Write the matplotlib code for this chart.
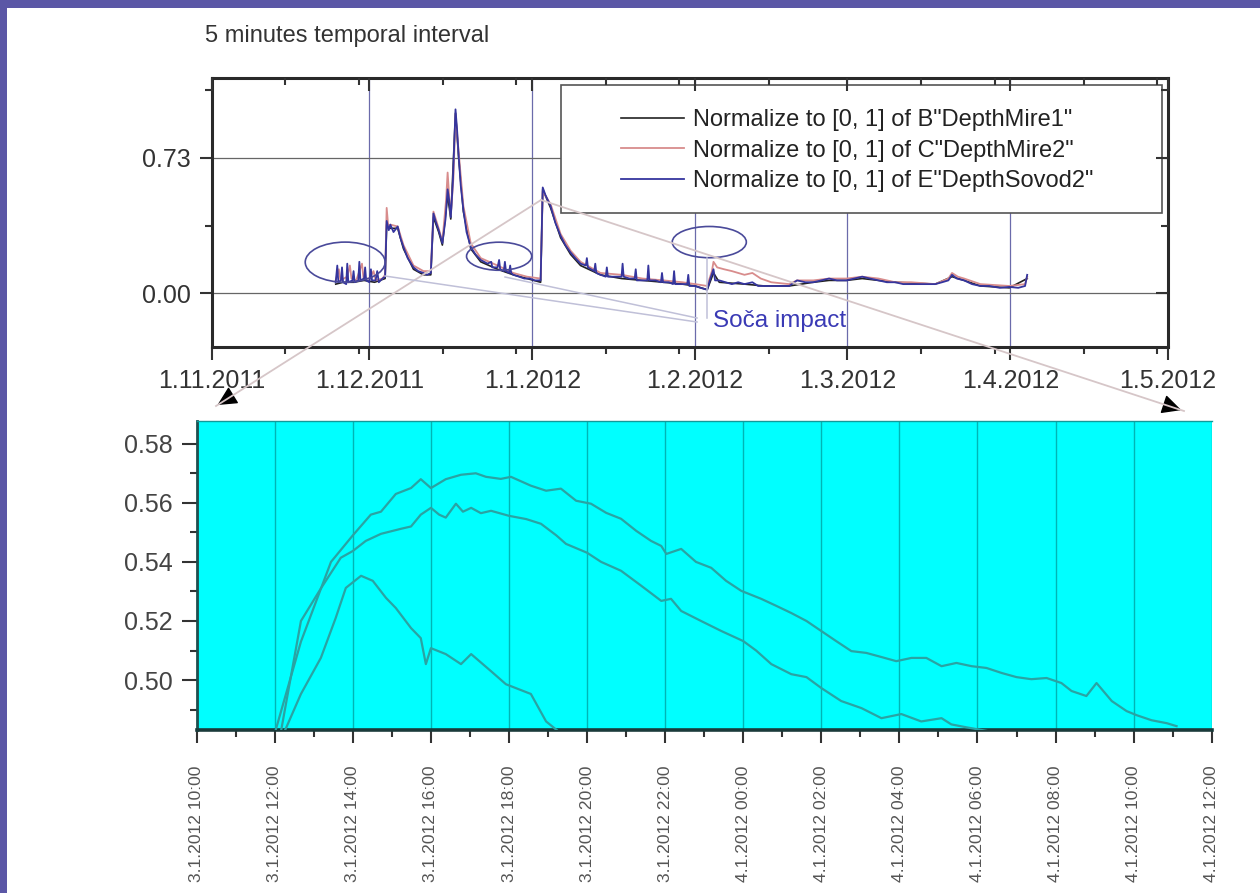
import matplotlib
matplotlib.use('Agg')
import matplotlib.pyplot as plt
import matplotlib.dates as mdates
from matplotlib.patches import Ellipse, Rectangle, FancyArrowPatch
from matplotlib.lines import Line2D
from datetime import datetime, timedelta

plt.rcParams['font.family'] = ['Liberation Sans', 'DejaVu Sans']

# ---------------- data: overview (days since 1.11.2011) ----------------
sovod_days = [23.6, 23.9, 24.1, 24.6, 24.8, 25.0, 25.6, 25.8, 26.0, 26.8, 27.0, 27.2, 27.9, 28.1, 28.3,
              29.0, 29.2, 29.4, 30.0, 30.3, 30.5, 31.2, 31.5, 31.8, 32.5, 33.0,
              33.3, 33.7, 34.0, 34.6, 35.4, 35.9, 36.5, 37.3, 38.4, 39.3, 40.3, 41.0, 41.7,
              42.2, 42.6, 43.2, 43.9, 44.5, 44.9, 45.2, 45.5, 45.9, 46.4, 46.7, 47.0, 47.4, 47.9,
              48.5, 49.3, 50.2, 51.2, 52.5, 53.2, 53.4, 54.4, 54.7, 54.9, 55.6, 55.8, 56.0, 56.6,
              56.8, 57.0, 57.4, 58.5, 59.5, 60.5, 61.5, 62.6,
              63.0, 63.5, 64.5, 65.4, 66.4, 67.3, 68.3, 69.2, 70.2, 71.2, 71.4, 71.6, 72.8, 73.0,
              73.2, 74.0, 75.0, 75.2, 75.4, 76.5, 78.0, 78.2, 78.4, 79.5, 80.5, 80.7, 80.9, 82.0,
              82.9, 83.1, 83.3, 84.5, 85.5, 85.7, 85.9, 87.0, 87.8, 88.0, 88.2, 89.6, 90.5, 90.7,
              90.9, 92.0, 93.0, 94.3, 94.9, 95.5, 95.8, 96.6, 97.8, 99.0, 100.2, 101.4, 102.9,
              104.0, 105.2, 107.5, 109.9, 111.4, 113.0, 114.5, 116.0, 117.5, 119.0, 120.8, 122.3,
              123.8, 125.3, 126.9, 128.5, 130.1, 131.6, 133.1, 135.5, 137.7, 139.0, 140.2, 140.9,
              141.8, 143.2, 144.7, 146.3, 148.0, 150.0, 151.8, 153.5, 154.8, 155.2]
sovod_vals = [0.06, 0.15, 0.06, 0.07, 0.14, 0.06, 0.05, 0.16, 0.06, 0.07, 0.12, 0.06, 0.07, 0.17, 0.07,
              0.08, 0.14, 0.07, 0.06, 0.13, 0.07, 0.07, 0.12, 0.06, 0.08, 0.09,
              0.39, 0.34, 0.37, 0.33, 0.36, 0.30, 0.25, 0.19, 0.14, 0.12, 0.11, 0.10, 0.11,
              0.43, 0.39, 0.34, 0.27, 0.40, 0.56, 0.50, 0.41, 0.60, 0.99, 0.88, 0.74, 0.58, 0.45,
              0.33, 0.25, 0.21, 0.18, 0.16, 0.17, 0.14, 0.14, 0.18, 0.13, 0.12, 0.17, 0.12, 0.11,
              0.15, 0.11, 0.10, 0.09, 0.08, 0.08, 0.07, 0.07,
              0.57, 0.53, 0.47, 0.38, 0.31, 0.26, 0.22, 0.19, 0.16, 0.15, 0.19, 0.14, 0.12, 0.16,
              0.11, 0.10, 0.09, 0.14, 0.09, 0.09, 0.09, 0.16, 0.09, 0.08, 0.08, 0.13, 0.07, 0.07,
              0.07, 0.15, 0.07, 0.07, 0.06, 0.11, 0.06, 0.06, 0.05, 0.12, 0.05, 0.05, 0.05, 0.10,
              0.04, 0.04, 0.03, 0.02, 0.08, 0.13, 0.07, 0.07, 0.06, 0.05, 0.06, 0.05, 0.06,
              0.04, 0.04, 0.04, 0.04, 0.07, 0.06, 0.06, 0.07, 0.08, 0.07, 0.07, 0.08,
              0.09, 0.08, 0.07, 0.06, 0.06, 0.05, 0.05, 0.05, 0.05, 0.06, 0.07, 0.10,
              0.08, 0.07, 0.05, 0.04, 0.04, 0.03, 0.035, 0.03, 0.04, 0.10]

mire2_days = [23.6, 24.2, 24.5, 25.8, 26.3, 26.6, 27.5, 28.6, 28.9, 30.0, 30.8, 31.2, 32.5, 33.0,
              33.3, 33.6, 34.0, 35.4, 36.5, 38.4, 40.3, 41.7, 42.2, 43.2, 43.9, 44.6, 44.9, 45.2,
              45.5, 46.0, 46.4, 47.0, 47.9, 49.3, 51.2, 54.4, 57.4, 60.0, 62.6, 63.0, 64.5, 66.4,
              68.3, 70.2, 74.0, 78.0, 82.0, 86.0, 89.6, 92.0, 94.3, 95.2, 95.5, 96.2, 97.5, 99.0,
              101.4, 102.9, 104.5, 106.5, 109.9, 111.4, 114.5, 117.5, 120.8, 123.8, 126.9, 130.1,
              133.1, 137.7, 140.2, 140.9, 142.0, 143.2, 146.3, 151.8, 154.8, 155.2]
mire2_vals = [0.07, 0.13, 0.07, 0.09, 0.15, 0.08, 0.07, 0.16, 0.08, 0.08, 0.12, 0.07, 0.08, 0.10,
              0.46, 0.36, 0.37, 0.36, 0.26, 0.15, 0.12, 0.12, 0.44, 0.35, 0.28, 0.50, 0.65, 0.52,
              0.42, 0.62, 0.96, 0.76, 0.47, 0.27, 0.19, 0.15, 0.11, 0.09, 0.08, 0.55, 0.48, 0.32,
              0.23, 0.17, 0.11, 0.10, 0.08, 0.07, 0.06, 0.05, 0.04, 0.12, 0.17, 0.14, 0.13, 0.12,
              0.10, 0.11, 0.08, 0.06, 0.05, 0.07, 0.07, 0.08, 0.08, 0.09, 0.08, 0.06,
              0.06, 0.05, 0.08, 0.11, 0.09, 0.08, 0.05, 0.04, 0.05, 0.09]

mire1_days = [23.6, 25.0, 27.0, 29.0, 31.0, 33.0, 33.3, 34.0, 35.4, 36.5, 38.4, 40.3, 41.7, 42.2,
              43.2, 43.9, 44.9, 45.5, 46.4, 47.0, 47.9, 49.3, 51.2, 54.4, 57.4, 60.0, 62.6, 63.0,
              64.5, 66.4, 68.3, 70.2, 74.0, 78.0, 82.0, 86.0, 89.6, 92.0, 94.3, 95.5, 96.6, 101.4,
              105.2, 109.9, 114.5, 117.5, 120.8, 123.8, 126.9, 130.1, 137.7, 140.9, 143.2, 146.3,
              151.8, 155.2]
mire1_vals = [0.05, 0.06, 0.06, 0.07, 0.06, 0.08, 0.37, 0.35, 0.35, 0.24, 0.13, 0.10, 0.10, 0.41,
              0.33, 0.26, 0.53, 0.40, 0.97, 0.73, 0.44, 0.24, 0.17, 0.13, 0.10, 0.08, 0.06, 0.56,
              0.46, 0.30, 0.21, 0.15, 0.10, 0.08, 0.07, 0.06, 0.05, 0.04, 0.02, 0.11, 0.06, 0.05,
              0.04, 0.04, 0.06, 0.07, 0.07, 0.08, 0.07, 0.06, 0.05, 0.09, 0.07, 0.04,
              0.03, 0.08]

series_labels = ['Normalize to [0, 1] of B"DepthMire1"',
                 'Normalize to [0, 1] of C"DepthMire2"',
                 'Normalize to [0, 1] of E"DepthSovod2"']

overview_tick_labels = ['1.11.2011', '1.12.2011', '1.1.2012', '1.2.2012', '1.3.2012', '1.4.2012', '1.5.2012']
overview_ytick_values = [0.0, 0.73]
overview_ytick_labels = ['0.00', '0.73']

# ---------------- data: zoom (hours since 3.1.2012 00:00) ----------------
zoom_a_hours = [12.00, 12.67, 13.44, 14.00, 14.46, 14.72, 15.10, 15.49, 15.74, 16.00, 16.38, 16.77,
                17.15, 17.41, 17.79, 18.05, 18.56, 18.95, 19.33, 19.72, 20.10, 20.49, 20.87, 21.26,
                21.64, 21.90, 22.03, 22.41, 22.79, 23.18, 23.56, 23.95, 24.46, 24.85, 25.23, 25.62,
                26.00, 26.38, 26.77, 27.15, 27.54, 27.92, 28.31, 28.69, 29.08, 29.46, 29.85, 30.23,
                30.62, 31.00, 31.38, 31.77, 32.15, 32.41, 32.79, 33.05, 33.44, 33.82, 34.08, 34.46,
                34.85, 35.10]
zoom_a_vals = [0.482, 0.513, 0.540, 0.549, 0.556, 0.557, 0.563, 0.565, 0.568, 0.565, 0.568, 0.5695,
               0.570, 0.5688, 0.5681, 0.5688, 0.5658, 0.5641, 0.5648, 0.5607, 0.5597, 0.5566, 0.5546, 0.5505,
               0.5471, 0.5454, 0.5427, 0.5444, 0.540, 0.538, 0.5336, 0.5302, 0.5275, 0.5251, 0.5227, 0.520,
               0.5166, 0.5132, 0.5098, 0.5092, 0.5078, 0.5064, 0.5075, 0.5075, 0.5047, 0.5058, 0.5047, 0.5041,
               0.5024, 0.5010, 0.5003, 0.5007, 0.4990, 0.4963, 0.4946, 0.4990, 0.4929, 0.4895, 0.4881, 0.4864,
               0.4854, 0.4844]

zoom_b_hours = [12.15, 12.67, 13.18, 13.69, 14.00, 14.33, 14.72, 15.23, 15.49, 15.74, 16.00, 16.21,
                16.38, 16.64, 16.82, 17.03, 17.28, 17.54, 18.00, 18.44, 18.82, 19.21, 19.46, 20.00,
                20.36, 20.87, 21.38, 21.90, 22.15, 22.41, 22.92, 23.44, 24.00, 24.33, 24.72, 25.23,
                25.62, 26.00, 26.51, 27.03, 27.54, 28.05, 28.56, 29.08, 29.33, 29.72, 30.36]
zoom_b_vals = [0.482, 0.520, 0.531, 0.5414, 0.5437, 0.5471, 0.5495, 0.5512, 0.5520, 0.5560, 0.5583, 0.5560,
               0.5550, 0.5597, 0.5570, 0.5583, 0.5565, 0.5573, 0.5556, 0.5545, 0.5529, 0.5490, 0.5461, 0.5431,
               0.5400, 0.5370, 0.5320, 0.5268, 0.5275, 0.5234, 0.5200, 0.5166, 0.5132, 0.5100, 0.5054, 0.5020,
               0.5010, 0.4973, 0.4929, 0.4905, 0.4871, 0.4885, 0.4860, 0.4871, 0.4850, 0.4840, 0.4825]

zoom_c_hours = [12.23, 12.67, 13.18, 13.56, 13.82, 14.21, 14.51, 14.85, 15.10, 15.49, 15.74, 15.87,
                16.00, 16.38, 16.77, 17.03, 17.54, 17.92, 18.56, 18.95, 19.23]
zoom_c_vals = [0.482, 0.4953, 0.5075, 0.5210, 0.5312, 0.5353, 0.5336, 0.5278, 0.5244, 0.5176, 0.5142, 0.5054,
               0.5108, 0.5088, 0.5054, 0.5088, 0.5030, 0.4986, 0.4953, 0.4860, 0.4830]

zoom_tick_labels = ['3.1.2012 10:00', '3.1.2012 12:00', '3.1.2012 14:00', '3.1.2012 16:00',
                    '3.1.2012 18:00', '3.1.2012 20:00', '3.1.2012 22:00', '4.1.2012 00:00',
                    '4.1.2012 02:00', '4.1.2012 04:00', '4.1.2012 06:00', '4.1.2012 08:00',
                    '4.1.2012 10:00', '4.1.2012 12:00']
zoom_ytick_values = [0.50, 0.52, 0.54, 0.56, 0.58]

# ---------------- figure ----------------
W, H = 1260, 893
fig = plt.figure(figsize=(W / 100, H / 100), dpi=100)
fig.patch.set_facecolor('white')


def fx(x):
    return x / W


def fy(y):
    return 1 - y / H


def P(x, y):
    return (fx(x), fy(y))


base1 = datetime(2011, 11, 1)
base2 = datetime(2012, 1, 3)


def dnum(days):
    return [mdates.date2num(base1 + timedelta(days=d)) for d in days]


def hnum(hours):
    return [mdates.date2num(base2 + timedelta(hours=h)) for h in hours]


# ---------- overview axes ----------
L1, R1, T1, B1 = 211.7, 1168.0, 78.3, 346.7
ax1 = fig.add_axes([fx(L1), fy(B1), (R1 - L1) / W, (B1 - T1) / H])
ax1.plot(dnum(mire1_days), mire1_vals, color='#222222', lw=1.2, zorder=3, label=series_labels[0])
ax1.plot(dnum(mire2_days), mire2_vals, color='#d88c8c', lw=1.3, zorder=3.1, label=series_labels[1])
ax1.plot(dnum(sovod_days), sovod_vals, color='#35359e', lw=1.3, zorder=3.2, label=series_labels[2])

major_dates = [datetime(2011, 11, 1), datetime(2011, 12, 1), datetime(2012, 1, 1), datetime(2012, 2, 1),
               datetime(2012, 3, 1), datetime(2012, 4, 1), datetime(2012, 5, 1)]
minor_dates = [datetime(2011, 11, 15), datetime(2011, 11, 29), datetime(2011, 12, 15), datetime(2011, 12, 29),
               datetime(2012, 1, 15), datetime(2012, 1, 29), datetime(2012, 2, 15), datetime(2012, 3, 15),
               datetime(2012, 3, 29), datetime(2012, 4, 15), datetime(2012, 4, 29)]
maj = mdates.date2num(major_dates)
mnr = mdates.date2num(minor_dates)
ax1.set_xlim(maj[0], maj[-1])
ax1.set_ylim(-0.2866, 1.157)
ax1.set_xticks(maj)
ax1.set_xticklabels(overview_tick_labels)
ax1.set_xticks(mnr, minor=True)
ax1.set_yticks(overview_ytick_values)
ax1.set_yticklabels(overview_ytick_labels)
ax1.set_yticks([0.365, 1.095], minor=True)
ax1.grid(axis='x', which='major', color='#6b6bab', lw=0.9, zorder=1)
ax1.grid(axis='y', which='major', color='#666666', lw=0.9, zorder=1)
ax1.tick_params(axis='both', which='major', direction='out', length=9, width=1.5,
                labelsize=18, labelcolor='#333333', color='#333333')
ax1.tick_params(axis='both', which='minor', direction='out', length=5, width=1.5, color='#333333')
ax1.tick_params(axis='x', which='major', pad=7)
ax1.tick_params(axis='y', which='major', pad=6)
for s in ax1.spines.values():
    s.set_color('#2a2a2a')
    s.set_linewidth(2.2)

axt = ax1.twiny()
axt.set_xlim(ax1.get_xlim())
axt.set_xticks(maj)
axt.set_xticks(mnr, minor=True)
axt.tick_params(axis='x', which='major', direction='in', length=9, width=1.5, labeltop=False, color='#333333')
axt.tick_params(axis='x', which='minor', direction='in', length=5, width=1.5, color='#333333')
for s in axt.spines.values():
    s.set_visible(False)
axr = ax1.twinx()
axr.set_ylim(ax1.get_ylim())
axr.set_yticks(overview_ytick_values)
axr.set_yticks([0.365, 1.095], minor=True)
axr.tick_params(axis='y', which='major', direction='in', length=9, width=1.5, labelright=False, color='#333333')
axr.tick_params(axis='y', which='minor', direction='in', length=5, width=1.5, color='#333333')
for s in axr.spines.values():
    s.set_visible(False)

# legend frame + legend
lx0, lx1, ly0, ly1 = 561, 1162, 85, 213
ax1.add_patch(Rectangle(((lx0 - L1) / (R1 - L1), (B1 - ly1) / (B1 - T1)),
                        (lx1 - lx0) / (R1 - L1), (ly1 - ly0) / (B1 - T1),
                        transform=ax1.transAxes, facecolor='white', edgecolor='#555555',
                        lw=1.2, zorder=5))
leg = ax1.legend(loc='center left', bbox_to_anchor=((621 - L1) / (R1 - L1), (B1 - 150.5) / (B1 - T1)),
                 frameon=False, fontsize=17, handlelength=2.67, handletextpad=0.38,
                 labelspacing=0.36, borderpad=0, borderaxespad=0)
leg.set_zorder(6)
for t in leg.get_texts():
    t.set_color('#222222')

# ellipses
for dc, vc, dw, vh in [(25.4, 0.168, 15.2, 0.216), (54.7, 0.200, 12.4, 0.151), (94.7, 0.276, 14.1, 0.168)]:
    ax1.add_patch(Ellipse((dnum([dc])[0], vc), dw, vh, facecolor='none', edgecolor='#4a4a9a',
                          lw=1.2, zorder=4))
ax1.text(dnum([95.4])[0], -0.146, 'Soča impact', color='#3a3ab5', fontsize=17.5,
         va='center', ha='left', zorder=4)

# ---------- zoom axes ----------
L2, R2, T2, B2 = 196.7, 1211.7, 420.7, 730.0
ax2 = fig.add_axes([fx(L2), fy(B2), (R2 - L2) / W, (B2 - T2) / H])
ax2.set_facecolor('#00ffff')
line_c = '#2aa3a3'
ax2.plot(hnum(zoom_a_hours), zoom_a_vals, color=line_c, lw=1.6, zorder=3)
ax2.plot(hnum(zoom_b_hours), zoom_b_vals, color=line_c, lw=1.6, zorder=3)
ax2.plot(hnum(zoom_c_hours), zoom_c_vals, color=line_c, lw=1.6, zorder=3)
ax2.set_xlim(hnum([10, 36]))
ax2.set_ylim(0.4831, 0.5878)
ax2.set_xticks(hnum(list(range(10, 37, 2))))
ax2.set_xticklabels(zoom_tick_labels, rotation=90)
ax2.set_xticks(hnum(list(range(11, 36, 2))), minor=True)
ax2.set_yticks(zoom_ytick_values)
ax2.set_yticklabels(['%.2f' % v for v in zoom_ytick_values])
ax2.set_yticks([0.49, 0.51, 0.53, 0.55, 0.57], minor=True)
ax2.grid(axis='x', which='major', color='#00b5b5', lw=1.0, zorder=1)
ax2.tick_params(axis='x', which='major', direction='out', length=9.5, width=1.5, pad=16,
                labelsize=12.6, labelcolor='#555555', color='#333333')
ax2.tick_params(axis='x', which='minor', direction='out', length=5, width=1.5, color='#333333')
ax2.tick_params(axis='y', which='major', direction='out', length=11, width=1.5, pad=6,
                labelsize=18, labelcolor='#444444', color='#333333')
ax2.tick_params(axis='y', which='minor', direction='out', length=5, width=1.5, color='#333333')
ax2.spines['left'].set_color('#1f4f4f')
ax2.spines['left'].set_linewidth(2.0)
ax2.spines['bottom'].set_color('#1a3a3a')
ax2.spines['bottom'].set_linewidth(2.6)
ax2.spines['top'].set_color('#109a9a')
ax2.spines['top'].set_linewidth(1.0)
ax2.spines['right'].set_visible(False)

# ---------- figure-level annotations ----------
zc = '#d6c6c8'
fig.add_artist(Line2D([fx(541), fx(216)], [fy(200), fy(406)], transform=fig.transFigure, color=zc, lw=1.3))
fig.add_artist(Line2D([fx(541), fx(1184)], [fy(200), fy(411)], transform=fig.transFigure, color=zc, lw=1.3))
for (xa, ya), (xb, yb) in [((228, 398.5), (215, 406.5)), ((1170.7, 406.6), (1184, 411))]:
    fig.add_artist(FancyArrowPatch(P(xa, ya), P(xb, yb), transform=fig.transFigure,
                                   arrowstyle='-|>,head_length=0.6,head_width=0.3',
                                   mutation_scale=20, color='black', lw=1))
cc = '#c0c0d8'
for (xa, ya), (xb, yb) in [((385, 276), (697, 322)), ((505, 277), (697, 318)), ((707, 258), (707, 318))]:
    fig.add_artist(Line2D([fx(xa), fx(xb)], [fy(ya), fy(yb)], transform=fig.transFigure, color=cc, lw=1.1))

fig.text(fx(205), fy(36), '5 minutes temporal interval', fontsize=17, color='#333333',
         va='center', ha='left')

# purple border
border = '#5b57a6'
fig.add_artist(Rectangle((0, fy(8)), 1, 8 / H, transform=fig.transFigure, facecolor=border,
                         edgecolor='none', zorder=10))
fig.add_artist(Rectangle((0, 0), 7 / W, 1, transform=fig.transFigure, facecolor=border,
                         edgecolor='none', zorder=10))

fig.savefig('out.png', dpi=100)
